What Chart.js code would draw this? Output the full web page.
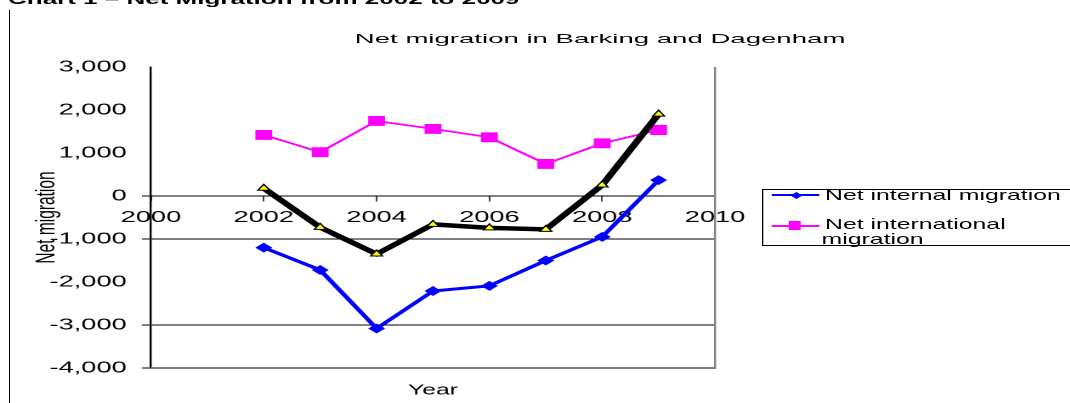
<!DOCTYPE html>
<html>
<head>
<meta charset="utf-8">
<script src="https://cdn.jsdelivr.net/npm/chart.js@4.4.0/dist/chart.umd.min.js"></script>
<style>
  html, body { margin: 0; padding: 0; background: #fff; overflow: hidden; }
  body { width: 1070px; height: 403px; position: relative; font-family: "Liberation Sans", Arial, sans-serif; color: #000; }
  /* the original picture is stretched sideways, so the whole chart is drawn narrow and scaled */
  #stretch { position: absolute; left: 0; top: 0; width: 629.4px; height: 403px; transform: scaleX(1.7); transform-origin: 0 0; }
  #chart-box { position: absolute; left: 0; top: 0; width: 629.4px; height: 403px; }
  #heading { position: absolute; left: 4.7px; top: -9.4px; font-size: 15.3px; line-height: 15px; font-weight: bold; white-space: nowrap; }
  #title { position: absolute; left: 353px; top: 31.5px; transform: translateX(-50%) scaleX(1.22); font-size: 13.3px; line-height: 13px; white-space: nowrap; }
  #legend-box { position: absolute; left: 448.2px; top: 189px; width: 240px; height: 57px; border: 1px solid #000; border-right: none; box-sizing: border-box; }
  .lg-line { position: absolute; left: 454px; width: 28px; height: 2px; }
  .lg-text { position: absolute; font-size: 14.6px; line-height: 15px; white-space: nowrap; }
  .lg-mark { position: absolute; }
  #frame-line { position: absolute; left: 9px; top: 10px; width: 1px; height: 393px; background: #000; }
</style>
</head>
<body>
<div id="stretch">
  <div id="heading">Chart 1 – Net Migration from 2002 to 2009</div>
  <div id="chart-box"><canvas id="migration-chart"></canvas></div>
  <div id="title">Net migration in Barking and Dagenham</div>
  <div id="legend-box"></div>
  <div class="lg-line" style="top:194px; background:#0000ff;"></div>
  <div class="lg-mark" style="left:466.3px; top:192.5px; width:5px; height:5px; background:#0000ff; transform:rotate(45deg);"></div>
  <div class="lg-text" style="left:485.3px; top:188.1px;">Net internal migration</div>
  <div class="lg-line" style="top:224.7px; background:#ff00ff;"></div>
  <div class="lg-mark" style="left:464.3px; top:221.2px; width:6.6px; height:9px; background:#ff00ff;"></div>
  <div class="lg-text" style="left:485.3px; top:216.8px;">Net international</div>
  <div class="lg-text" style="left:483.3px; top:231.8px;">migration</div>
</div>
<div id="frame-line"></div>
<script>
// Datos
const years = [2002, 2003, 2004, 2005, 2006, 2007, 2008, 2009];
const netInternal = [-1200, -1720, -3080, -2210, -2090, -1500, -950, 370];
const netInternational = [1420, 1020, 1745, 1560, 1365, 745, 1225, 1535];
const netMigration = [180, -730, -1350, -660, -740, -775, 255, 1905];

const xTicks = [2000, 2002, 2004, 2006, 2008, 2010];
const yTicks = [3000, 2000, 1000, 0, -1000, -2000, -3000, -4000];
const gridValues = [0, -1000, -3000, -4000];

const toPoints = values => years.map((year, i) => ({ x: year, y: values[i] }));

// Borde gris del área de trazado (derecha y abajo)
const plotBorder = {
    id: 'plotBorder',
    afterDraw(chart) {
        const { ctx, chartArea: a } = chart;
        ctx.save();
        ctx.strokeStyle = '#808080';
        ctx.lineWidth = 1.2;
        ctx.beginPath();
        ctx.moveTo(a.right, a.top);
        ctx.lineTo(a.right, a.bottom + 1);
        ctx.stroke();
        ctx.lineWidth = 2;
        ctx.beginPath();
        ctx.moveTo(a.left, a.bottom);
        ctx.lineTo(a.right + 0.6, a.bottom);
        ctx.stroke();
        ctx.restore();
    }
};

Chart.defaults.color = '#000';
Chart.defaults.font.family = '"Liberation Sans", Arial, sans-serif';

const ctx = document.getElementById('migration-chart').getContext('2d');
const migrationChart = new Chart(ctx, {
    type: 'line',
    data: {
        datasets: [{
            label: 'Net migration',
            data: toPoints(netMigration),
            borderColor: '#000000',
            borderWidth: 4.5,
            pointStyle: 'triangle',
            pointRadius: 4,
            pointBackgroundColor: '#ffff00',
            pointBorderColor: '#000000',
            pointBorderWidth: 1
        }, {
            label: 'Net internal migration',
            data: toPoints(netInternal),
            borderColor: '#0000ff',
            borderWidth: 3,
            pointStyle: 'rectRot',
            pointRadius: 5,
            pointBackgroundColor: '#0000ff',
            pointBorderColor: '#0000ff',
            pointBorderWidth: 0
        }, {
            label: 'Net international migration',
            data: toPoints(netInternational),
            borderColor: '#ff00ff',
            borderWidth: 1.8,
            pointStyle: 'rect',
            pointRadius: 7,
            pointBackgroundColor: '#ff00ff',
            pointBorderColor: '#ff00ff',
            pointBorderWidth: 0
        }]
    },
    options: {
        responsive: true,
        maintainAspectRatio: false,
        animation: false,
        devicePixelRatio: 2,
        layout: {
            padding: { top: 67, left: 0, right: 208.8, bottom: 0 }
        },
        scales: {
            x: {
                type: 'linear',
                position: { y: 0 },
                min: 2000,
                max: 2010,
                afterBuildTicks: scale => { scale.ticks = xTicks.map(v => ({ value: v })); },
                ticks: {
                    padding: 7,
                    font: { size: 16 },
                    maxRotation: 0,
                    callback: value => String(value)
                },
                grid: {
                    drawOnChartArea: false,
                    drawTicks: true,
                    tickLength: 5,
                    color: '#444'
                },
                border: { color: '#000', width: 1 }
            },
            x2: {
                type: 'linear',
                position: 'bottom',
                min: 2000,
                max: 2010,
                ticks: { display: false },
                grid: { display: false },
                border: { display: false },
                title: {
                    display: true,
                    text: 'Year',
                    font: { size: 14.5 },
                    padding: { top: 0, bottom: 4 }
                },
                afterFit: scale => { scale.height = 35; }
            },
            y: {
                type: 'linear',
                position: 'left',
                min: -4000,
                max: 3000,
                afterBuildTicks: scale => { scale.ticks = yTicks.map(v => ({ value: v })); },
                afterFit: scale => { scale.width = 88.8; },
                ticks: {
                    padding: 9,
                    font: { size: 16 },
                    callback: value => value.toLocaleString('en-US')
                },
                grid: {
                    color: context => gridValues.includes(context.tick.value) ? '#000' : 'rgba(0,0,0,0)',
                    lineWidth: 1,
                    tickLength: 5.3
                },
                border: { color: '#000', width: 1.2 },
                title: {
                    display: true,
                    text: 'Net migration',
                    font: { size: 15.5 },
                    padding: { top: 18.4, bottom: 0 }
                }
            }
        },
        plugins: {
            legend: { display: false },
            title: { display: false },
            tooltip: { enabled: false }
        }
    },
    plugins: [plotBorder]
});
</script>
</body>
</html>
